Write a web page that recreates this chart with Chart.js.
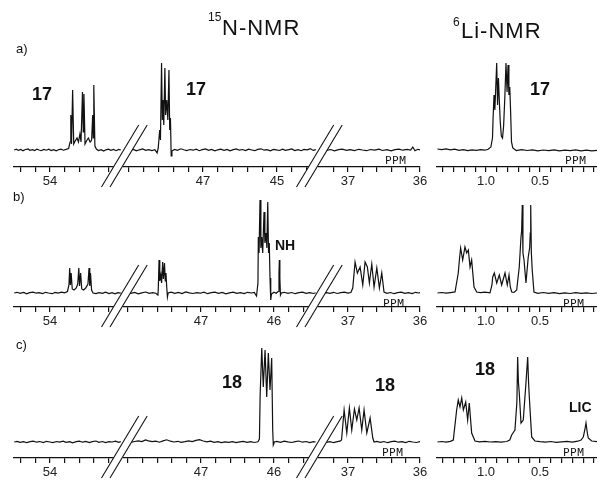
<!DOCTYPE html>
<html>
<head>
<meta charset="utf-8">
<script src="https://cdn.jsdelivr.net/npm/chart.js@4.4.1/dist/chart.umd.min.js"></script>
<style>
  html, body { margin: 0; padding: 0; background: #fff; overflow: hidden; }
  #fig { position: relative; width: 597px; height: 483px; font-family: 'Liberation Sans', Arial, sans-serif; color: #111; }
  #fig canvas { position: absolute; }
  #fig svg { position: absolute; left: 0; top: 0; }
  .t { position: absolute; white-space: nowrap; line-height: 1; }
  .title { font-size: 22px; letter-spacing: 1px; }
  .sup { font-size: 12px; }
  .lab { font-size: 18px; font-weight: bold; }
  .lab-s { font-size: 14px; font-weight: bold; }
  .row { font-size: 13px; }
  .ppm { font-family: 'DejaVu Sans Mono', monospace; font-size: 11px; letter-spacing: 0.5px; }
</style>
</head>
<body>
<div id="fig"></div>
<script>
// ---------------------------------------------------------------------------
// DATA — spectra as [ppm, height] pairs.
// ---------------------------------------------------------------------------

// a) 15N, left piece (54 ppm region)
const specA1 = [[54.98,0],[54.92,0.8],[54.87,-0.4],[54.8,0.5],[54.74,-0.8],[54.69,0.3],[54.6,1],[54.55,-0.3],[54.48,0.4],[54.42,-0.6],[54.36,0.9],[54.3,0],[54.24,-0.7],[54.17,0.6],[54.1,-0.2],[54.03,0.8],[53.97,-0.5],[53.9,0.4],[53.83,-0.9],[53.77,0.3],[53.7,0.9],[53.63,-0.2],[53.56,0.6],[53.49,1.5],[53.45,8],[53.43,35],[53.41,6],[53.38,60],[53.35,6],[53.31,9],[53.26,12],[53.22,8],[53.18,16],[53.15,8],[53.11,58],[53.09,18],[53.07,56],[53.04,6],[53.0,9],[52.95,12],[52.9,8],[52.86,10],[52.83,35],[52.815,12],[52.8,65],[52.77,4],[52.73,1],[52.67,-0.6],[52.6,0.4],[52.53,-1],[52.47,0.2],[52.4,0.8],[52.33,-0.3],[52.26,0.5],[52.19,-0.7],[52.12,0.6],[52.06,0]];
// a) 15N, middle piece (47-45 ppm)
const specA2 = [[49.13,0],[49.05,0.7],[48.97,-0.4],[48.88,0.5],[48.8,-0.8],[48.72,0.2],[48.63,1],[48.55,-0.3],[48.47,0.4],[48.38,-0.6],[48.3,0.3],[48.24,-3],[48.21,2],[48.17,20],[48.15,10],[48.12,87],[48.1,30],[48.08,50],[48.06,25],[48.03,82],[48.01,35],[47.98,50],[47.95,30],[47.92,80],[47.9,20],[47.88,32],[47.86,-6],[47.84,-1],[47.77,0.6],[47.69,-0.3],[47.6,1.2],[47.52,0.2],[47.44,-0.6],[47.35,0.5],[47.27,-0.2],[47.18,0.8],[47.1,-0.7],[47.02,0.3],[46.93,1],[46.85,-0.4],[46.77,0.5],[46.68,-0.8],[46.6,0.2],[46.52,0.9],[46.43,-0.3],[46.35,0.6],[46.27,-0.9],[46.18,0.4],[46.1,1.1],[46.02,-0.2],[45.93,0.5],[45.85,-0.6],[45.77,0.8],[45.68,0],[45.6,-0.7],[45.52,0.6],[45.43,1.2],[45.35,-0.2],[45.27,0.4],[45.18,-0.8],[45.1,0.6],[45.02,0.1],[44.93,-0.5],[44.85,0.9],[44.77,-0.3],[44.68,0.4],[44.6,1],[44.52,-0.5],[44.43,0.3],[44.35,-0.7],[44.27,0.6],[44.18,0.1],[44.1,1.4],[44.02,-0.4],[43.95,0.3]];
// a) 15N, right piece (37-36 ppm)
const specA3 = [[37.4,0],[37.35,0.6],[37.3,-0.4],[37.24,0.5],[37.19,-0.8],[37.13,0.3],[37.08,0.9],[37.02,-0.3],[36.97,0.4],[36.91,-0.6],[36.85,0.7],[36.8,0],[36.74,-0.7],[36.69,0.5],[36.63,-0.2],[36.57,0.8],[36.52,-0.5],[36.46,0.4],[36.4,-0.8],[36.35,0.3],[36.29,0.9],[36.24,-0.2],[36.18,0.6],[36.13,0],[36.1,3],[36.07,-0.8],[36.03,0.7],[36.0,0]];
// a) 6Li
const specALi = [[1.45,1],[1.41,0.4],[1.37,1.1],[1.33,0.2],[1.29,0.8],[1.25,-0.3],[1.21,0.3],[1.17,-0.6],[1.13,0.2],[1.09,-0.4],[1.05,0.3],[1.01,-0.2],[0.98,0.8],[0.955,3],[0.94,12],[0.935,30],[0.926,55],[0.918,40],[0.91,62],[0.901,87],[0.893,45],[0.885,72],[0.877,50],[0.868,28],[0.858,14],[0.847,12],[0.837,24],[0.826,52],[0.815,87],[0.805,58],[0.796,85],[0.788,55],[0.78,63],[0.772,38],[0.764,8],[0.752,2],[0.72,-0.6],[0.67,0.3],[0.62,-0.5],[0.57,0.2],[0.52,-0.8],[0.47,0],[0.42,-0.6],[0.37,0.2],[0.32,-0.9],[0.27,-0.2],[0.22,-0.7],[0.17,0.1],[0.12,-0.8],[0.07,-0.2],[0.02,-0.9],[-0.03,-0.3]];

// b) 15N
const specB1 = [[54.49,0],[54.45,0.7],[54.41,-0.3],[54.36,0.5],[54.32,-0.8],[54.28,0.3],[54.23,0.9],[54.19,-0.2],[54.15,0.4],[54.1,-0.6],[54.06,0.7],[54.02,0],[53.97,-0.7],[53.93,0.5],[53.89,-0.2],[53.84,0.8],[53.8,0.2],[53.76,1.5],[53.74,8],[53.73,25],[53.72,8],[53.71,20],[53.695,4],[53.67,3],[53.64,5],[53.62,9],[53.605,25],[53.595,7],[53.58,20],[53.565,4],[53.54,3],[53.51,5],[53.48,9],[53.465,25],[53.455,7],[53.445,20],[53.43,3],[53.41,0],[53.37,-0.6],[53.33,0.4],[53.28,-0.3],[53.24,0.8],[53.19,-0.5],[53.15,0.3],[53.11,-0.8],[53.07,0.4],[53.03,-0.2]];
const specB2 = [[48.05,0],[48.01,0.7],[47.96,-0.4],[47.91,0.5],[47.86,-0.8],[47.81,0.2],[47.76,1],[47.71,-0.3],[47.66,0.4],[47.62,-0.2],[47.59,-2],[47.585,5],[47.575,33],[47.565,12],[47.55,18],[47.54,10],[47.525,31],[47.515,14],[47.5,30],[47.49,12],[47.48,20],[47.47,6],[47.46,-4],[47.45,0],[47.41,0.8],[47.36,-0.3],[47.31,0.6],[47.26,-0.6],[47.21,1.1],[47.16,0.1],[47.11,-0.5],[47.06,0.4],[47.01,-0.2],[46.96,0.9],[46.91,-0.7],[46.86,0.3],[46.81,0.8],[46.76,-0.4],[46.71,0.5],[46.66,-0.8],[46.61,0.2],[46.56,0.9],[46.51,-0.3],[46.46,0.4],[46.41,-0.6],[46.36,0.7],[46.31,0],[46.27,0.5],[46.24,-3],[46.22,10],[46.215,56],[46.205,40],[46.192,93],[46.18,45],[46.168,56],[46.155,40],[46.137,81],[46.125,50],[46.11,60],[46.098,45],[46.086,91],[46.075,40],[46.065,50],[46.055,15],[46.045,-7],[46.035,-1],[46.0,0.8],[45.97,-0.3],[45.945,1.5],[45.932,20],[45.927,33],[45.92,15],[45.912,-2],[45.9,0],[45.86,0.7],[45.81,-0.4],[45.76,0.5],[45.71,-0.7],[45.66,0.3],[45.61,0.9],[45.56,-0.3],[45.51,0.4],[45.46,-0.5],[45.43,0.2]];
const specB3 = [[37.4,0],[37.35,-0.6],[37.3,0.4],[37.25,-0.3],[37.2,0.7],[37.15,-0.5],[37.1,0.3],[37.05,0.8],[37.0,-0.2],[36.96,0.5],[36.934,5],[36.902,31],[36.87,20],[36.832,26],[36.795,8],[36.763,31],[36.731,26],[36.703,10],[36.67,29],[36.638,6],[36.6,25],[36.564,5],[36.531,20],[36.5,1],[36.46,-0.4],[36.41,0.5],[36.36,-0.7],[36.31,0.3],[36.26,0.8],[36.21,-0.3],[36.16,0.4],[36.11,-0.6],[36.06,0.7],[36.02,0],[36.0,0.3]];
const specBLi = [[1.45,0],[1.41,0.5],[1.37,-0.2],[1.33,0.4],[1.3,0.8],[1.287,1],[1.257,20],[1.245,35],[1.235,45],[1.216,33],[1.195,46],[1.179,40],[1.164,43],[1.148,26],[1.133,33],[1.111,6],[1.086,1],[1.05,0.3],[1.01,0.8],[0.963,0.2],[0.945,8],[0.938,16],[0.923,20],[0.901,10],[0.877,18],[0.855,8],[0.824,20],[0.803,8],[0.787,18],[0.775,6],[0.762,1],[0.74,0.6],[0.716,3],[0.692,26],[0.676,56],[0.67,62],[0.664,88],[0.658,40],[0.648,33],[0.63,10],[0.609,36],[0.596,45],[0.59,60],[0.586,88],[0.58,40],[0.572,23],[0.556,1],[0.52,-0.3],[0.47,0.5],[0.42,-0.4],[0.37,0.3],[0.32,-0.6],[0.27,0.2],[0.22,-0.5],[0.17,0.4],[0.12,-0.3],[0.07,0.2],[0.02,-0.5],[-0.03,0]];

// c) 15N
const specC1 = [[54.49,0],[54.45,0.6],[54.41,-0.4],[54.36,0.4],[54.32,-0.7],[54.27,0.3],[54.23,0.9],[54.18,-0.2],[54.14,0.5],[54.09,-0.6],[54.05,0.7],[54.0,0],[53.96,-0.6],[53.91,0.5],[53.87,-0.2],[53.82,0.8],[53.78,-0.4],[53.73,0.4],[53.69,-0.8],[53.64,0.3],[53.6,0.9],[53.55,-0.2],[53.51,0.6],[53.46,-0.5],[53.42,0.4],[53.37,1],[53.33,-0.3],[53.28,0.5],[53.24,-0.6],[53.19,0.4],[53.15,0],[53.1,0.8],[53.06,-0.3],[53.03,0.4]];
const specC2 = [[48.05,0],[48.01,0.6],[47.96,-0.3],[47.91,0.5],[47.86,1.2],[47.81,0.4],[47.76,2],[47.72,1.2],[47.67,0.3],[47.62,0.9],[47.57,-0.2],[47.52,1.1],[47.47,2.2],[47.42,0.8],[47.37,0],[47.32,0.7],[47.27,-0.4],[47.22,0.3],[47.17,1.2],[47.12,0.4],[47.07,1.6],[47.02,2.4],[46.97,1],[46.92,0.2],[46.87,0.8],[46.82,-0.3],[46.77,0.4],[46.72,-0.6],[46.67,0.2],[46.62,-0.4],[46.57,0.3],[46.52,-0.7],[46.47,0.1],[46.42,0.6],[46.37,-0.3],[46.32,0.4],[46.27,-0.5],[46.22,0.2],[46.2,3],[46.19,47],[46.168,94],[46.147,55],[46.123,92],[46.1,45],[46.078,89],[46.055,52],[46.032,84],[46.018,12],[46.01,-3],[45.995,0],[45.96,0.7],[45.91,-0.3],[45.86,0.8],[45.81,0.1],[45.76,-0.5],[45.71,0.4],[45.66,1],[45.61,-0.2],[45.56,0.5],[45.51,-0.6],[45.46,0.3],[45.43,0]];
const specC3 = [[37.4,0],[37.35,0.6],[37.3,-0.4],[37.25,0.4],[37.2,-0.7],[37.15,0.3],[37.11,0.8],[37.09,2],[37.054,32],[37.017,9],[36.981,34],[36.948,12],[36.911,33],[36.878,22],[36.846,34],[36.809,12],[36.777,32],[36.739,9],[36.693,24],[36.656,4],[36.638,0],[36.6,0.6],[36.55,-0.4],[36.5,0.5],[36.45,-0.7],[36.4,0.3],[36.35,0.9],[36.3,-0.2],[36.25,0.4],[36.2,-0.6],[36.15,0.7],[36.1,0],[36.05,-0.5],[36.0,0.4]];
const specCLi = [[1.45,0],[1.41,0.5],[1.37,-0.2],[1.33,0.6],[1.303,2],[1.272,32],[1.257,42],[1.241,35],[1.225,44],[1.21,32],[1.188,40],[1.17,22],[1.155,39],[1.133,9],[1.102,1],[1.06,0.2],[1.01,0.6],[0.96,0],[0.91,0.4],[0.86,-0.2],[0.81,0.5],[0.78,2],[0.762,7],[0.732,12],[0.714,40],[0.707,85],[0.7,60],[0.692,49],[0.676,19],[0.655,22],[0.63,59],[0.614,85],[0.606,60],[0.599,45],[0.577,5],[0.547,1],[0.5,0.3],[0.45,-0.2],[0.4,0.5],[0.35,-0.3],[0.3,0.2],[0.25,0.6],[0.2,-0.2],[0.15,0.8],[0.12,2],[0.099,5],[0.085,12],[0.074,19],[0.063,10],[0.053,4],[0.0215,1],[-0.03,0.3]];

// Axis ranges [min, max] in ppm (drawn reversed, high ppm on the left).
const rangeA1 = [52.055, 54.986];
const rangeA2 = [43.946, 49.135];
const rangeBC1 = [53.027, 54.493];
const rangeBC2 = [45.425, 48.055];
const rangeN3 = [36.0, 37.403];
const rangeLi = [-0.028, 1.454];

// Tick positions and the ones that carry a label.
const ticksA1 = [54.8, 54.4, 54.0, 53.6, 53.2, 52.8, 52.4];
const ticksA2 = [49.0, 48.6, 48.2, 47.8, 47.4, 47.0, 46.6, 46.2, 45.8, 45.4, 45.0, 44.6, 44.2];
const ticksBC1 = [54.4, 54.2, 54.0, 53.8, 53.6, 53.4, 53.2];
const ticksBC2 = [48.0, 47.8, 47.6, 47.4, 47.2, 47.0, 46.8, 46.6, 46.4, 46.2, 46.0, 45.8, 45.6];
const ticksN3 = [37.2, 37.0, 36.8, 36.6, 36.4, 36.2, 36.0];
const ticksLi = [1.4, 1.3, 1.2, 1.1, 1.0, 0.9, 0.8, 0.7, 0.6, 0.5, 0.4, 0.3, 0.2, 0.1, 0.0];

const labels54 = [[54, '54']];
const labelsA2 = [[47, '47'], [45, '45']];
const labelsBC2 = [[47, '47'], [46, '46']];
const labelsN3 = [[37, '37'], [36, '36']];
const labelsLi = [[1.0, '1.0'], [0.5, '0.5']];

(function () {
  'use strict';

  const fig = document.getElementById('fig');
  Chart.defaults.font.family = "'Liberation Sans', Arial, sans-serif";

  const PAD = 12;     // side room so edge tick labels are not cut
  const AXIS_H = 22;  // height kept below the axis line

  // Rows: top of the plot area, y of the axis line, axis offset under the baseline.
  const rows = {
    a: { top: 55, axis: 167, yMin: -17 },
    b: { top: 190, axis: 307, yMin: -14 },
    c: { top: 336, axis: 458, yMin: -16 },
  };

  // Columns: left/right pixel edges of each piece of the broken axis.
  const cols = {
    n1: { left: 14, right: 121 },
    n2: { left: 124, right: 316 },
    n3: { left: 319, right: 420 },
    li: { left: 437, right: 597 },
  };

  const panels = [
    { row: 'a', col: 'n1', data: specA1, range: rangeA1, ticks: ticksA1, labels: labels54 },
    { row: 'a', col: 'n2', data: specA2, range: rangeA2, ticks: ticksA2, labels: labelsA2 },
    { row: 'a', col: 'n3', data: specA3, range: rangeN3, ticks: ticksN3, labels: labelsN3 },
    { row: 'a', col: 'li', data: specALi, range: rangeLi, ticks: ticksLi, labels: labelsLi },
    { row: 'b', col: 'n1', data: specB1, range: rangeBC1, ticks: ticksBC1, labels: labels54 },
    { row: 'b', col: 'n2', data: specB2, range: rangeBC2, ticks: ticksBC2, labels: labelsBC2 },
    { row: 'b', col: 'n3', data: specB3, range: rangeN3, ticks: ticksN3, labels: labelsN3 },
    { row: 'b', col: 'li', data: specBLi, range: rangeLi, ticks: ticksLi, labels: labelsLi },
    { row: 'c', col: 'n1', data: specC1, range: rangeBC1, ticks: ticksBC1, labels: labels54 },
    { row: 'c', col: 'n2', data: specC2, range: rangeBC2, ticks: ticksBC2, labels: labelsBC2 },
    { row: 'c', col: 'n3', data: specC3, range: rangeN3, ticks: ticksN3, labels: labelsN3 },
    { row: 'c', col: 'li', data: specCLi, range: rangeLi, ticks: ticksLi, labels: labelsLi },
  ];

  // Axis-break marks: x where each line crosses the axis.
  const breaks = [113.5, 122, 308.5, 317];

  const texts = [
    ['t sup', 208, 11, '15'],
    ['t title', 222, 17, 'N-NMR'],
    ['t sup', 453, 16, '6'],
    ['t title', 461, 20, 'Li-NMR'],
    ['t row', 16, 42, 'a)'],
    ['t row', 13, 190, 'b)'],
    ['t row', 16, 338, 'c)'],
    ['t lab', 32, 85, '17'],
    ['t lab', 186, 80, '17'],
    ['t lab', 530, 80, '17'],
    ['t lab-s', 275, 238, 'NH'],
    ['t lab', 222, 373, '18'],
    ['t lab', 375, 376, '18'],
    ['t lab', 475, 360, '18'],
    ['t lab-s', 569, 400, 'LIC'],
    ['t ppm', 385, 155, 'PPM'],
    ['t ppm', 565, 155, 'PPM'],
    ['t ppm', 383, 298, 'PPM'],
    ['t ppm', 563, 298, 'PPM'],
    ['t ppm', 382, 447, 'PPM'],
    ['t ppm', 563, 447, 'PPM'],
  ];

  panels.forEach(renderSpectrum);
  drawBreaks();
  texts.forEach(([cls, x, y, txt]) => {
    const el = document.createElement('div');
    el.className = cls;
    el.style.left = x + 'px';
    el.style.top = y + 'px';
    el.textContent = txt;
    fig.appendChild(el);
  });

  // ===========================================================================
  // SPECTRUM PANELS
  // ===========================================================================

  function renderSpectrum(p) {
    const row = rows[p.row];
    const col = cols[p.col];
    const areaH = row.axis - row.top;
    const w = col.right - col.left + 2 * PAD;
    const h = areaH + AXIS_H;

    const canvas = document.createElement('canvas');
    canvas.width = w;
    canvas.height = h;
    canvas.style.left = (col.left - PAD) + 'px';
    canvas.style.top = row.top + 'px';
    canvas.style.width = w + 'px';
    canvas.style.height = h + 'px';
    fig.appendChild(canvas);

    new Chart(canvas, {
      type: 'line',
      data: {
        datasets: [{
          data: p.data.map(([x, y]) => ({ x, y })),
          borderColor: '#111',
          borderWidth: 1.2,
          pointRadius: 0,
          tension: 0,
          fill: false,
        }],
      },
      options: {
        responsive: false,
        animation: false,
        events: [],
        layout: { padding: { left: PAD, right: PAD, top: 0, bottom: 0 } },
        plugins: { legend: { display: false }, tooltip: { enabled: false } },
        scales: {
          x: {
            type: 'linear',
            reverse: true,
            min: p.range[0],
            max: p.range[1],
            border: { display: true, color: '#111', width: 1.3 },
            grid: { display: true, drawOnChartArea: false, drawTicks: true, tickLength: 5, color: '#111', lineWidth: 1.2 },
            ticks: {
              autoSkip: false,
              maxRotation: 0,
              minRotation: 0,
              padding: 2,
              color: '#222',
              font: { size: 13 },
              callback: v => labelFor(p.labels, v),
            },
            afterBuildTicks: s => { s.ticks = p.ticks.map(v => ({ value: v })); },
            afterFit: s => { s.height = AXIS_H; s.paddingLeft = 0; s.paddingRight = 0; },
          },
          y: { display: false, min: row.yMin, max: row.yMin + areaH },
        },
      },
    });
  }

  // ===========================================================================
  // HELPERS
  // ===========================================================================

  function labelFor(list, v) {
    const hit = list.find(l => Math.abs(l[0] - v) < 1e-6);
    return hit ? hit[1] : '';
  }

  function drawBreaks() {
    const NS = 'http://www.w3.org/2000/svg';
    const svg = document.createElementNS(NS, 'svg');
    svg.setAttribute('width', 597);
    svg.setAttribute('height', 483);
    const slope = 0.6;
    Object.values(rows).forEach(row => {
      const yT = row.axis - 42, yB = row.axis + 20;
      for (let i = 0; i < breaks.length; i += 2) {
        const x1 = breaks[i], x2 = breaks[i + 1];
        const pts = [
          [x1 + 42 * slope, yT], [x2 + 42 * slope, yT],
          [x2 - 20 * slope, yB], [x1 - 20 * slope, yB],
        ];
        const poly = document.createElementNS(NS, 'polygon');
        poly.setAttribute('points', pts.map(q => q.join(',')).join(' '));
        poly.setAttribute('fill', '#fff');
        svg.appendChild(poly);
        [[pts[0], pts[3]], [pts[1], pts[2]]].forEach(([a, b]) => {
          const ln = document.createElementNS(NS, 'line');
          ln.setAttribute('x1', a[0]); ln.setAttribute('y1', a[1]);
          ln.setAttribute('x2', b[0]); ln.setAttribute('y2', b[1]);
          ln.setAttribute('stroke', '#111');
          ln.setAttribute('stroke-width', 1.1);
          svg.appendChild(ln);
        });
      }
    });
    fig.appendChild(svg);
  }

})();
</script>
</body>
</html>
